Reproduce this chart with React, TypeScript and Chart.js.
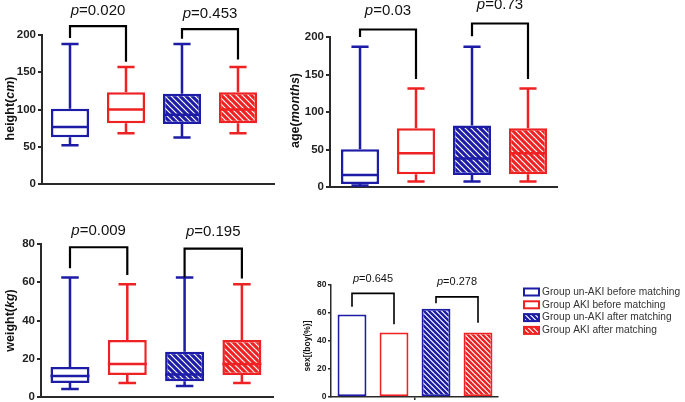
import React, { useEffect, useRef } from "react";
import { Chart, registerables } from "chart.js";

Chart.register(...registerables);

const FONT = '"Liberation Sans", Arial, Helvetica, sans-serif';

// ---------- shared groups ----------
const groups = [
  "Group un-AKI before matching",
  "Group AKI before matching",
  "Group un-AKI after matching",
  "Group AKI after matching",
];
const groupColors = ["#1c1ca6", "#ee2222", "#1c1ca6", "#ee2222"];
const groupHatched = [false, false, true, true];
const bracketPairs = [
  [0, 1],
  [2, 3],
];

// ---------- height (cm) ----------
const heightMin = [52, 68, 62.5, 68];
const heightQ1 = [62.7, 81.5, 80.5, 81.5];
const heightMedian = [76.5, 100, 93, 100];
const heightQ3 = [101, 123, 121, 123];
const heightMax = [188, 157, 188, 157];
const heightTicks = [0, 50, 100, 150, 200];
const heightPValues = ["0.020", "0.453"];
const heightBracketTop = [212, 208];
const heightBracketLeftEnd = [196, 195];
const heightBracketRightEnd = [164, 167];

// ---------- age (months) ----------
const ageMin = [2, 7.5, 7.5, 7.5];
const ageQ1 = [4, 17, 16, 17];
const ageMedian = [16, 45, 38, 45];
const ageQ3 = [50.5, 78.5, 82, 78.5];
const ageMax = [187, 131.5, 187, 131.5];
const ageTicks = [0, 50, 100, 150, 200];
const agePValues = ["0.03", "0.73"];
const ageBracketTop = [210, 218];
const ageBracketLeftEnd = [200, 201];
const ageBracketRightEnd = [144, 144];

// ---------- weight (kg) ----------
const weightMin = [4.2, 7.3, 5.7, 7.3];
const weightQ1 = [7.3, 11.5, 8.2, 11.5];
const weightMedian = [11, 17.3, 11.8, 17.3];
const weightQ3 = [15.7, 29.8, 23.6, 29.8];
const weightMax = [62.5, 59, 62.5, 59];
const weightTicks = [0, 20, 40, 60, 80];
const weightPValues = ["0.009", "0.195"];
const weightBracketTop = [78.3, 77.6];
const weightBracketLeftEnd = [67.3, 62.5];
const weightBracketRightEnd = [63.8, 62];

// ---------- sex (boy %) ----------
const sexBoyPercent = [59, 46, 63, 46];
const sexTicks = [0, 20, 40, 60, 80];
const sexPValues = ["0.645", "0.278"];
const sexBracketTop = [74, 71.5];
const sexBracketLeftEnd = [64.5, 67];
const sexBracketRightEnd = [52, 53];
const sexSeparatorTicks = [1.5];

type Part = { text: string; italic?: boolean };

function drawParts(
  ctx: CanvasRenderingContext2D,
  parts: Part[],
  cx: number,
  cy: number,
  size: number,
  bold: boolean,
  rotate: boolean,
  color: string
) {
  ctx.save();
  ctx.translate(cx, cy);
  if (rotate) ctx.rotate(-Math.PI / 2);
  ctx.fillStyle = color;
  ctx.textBaseline = "middle";
  ctx.textAlign = "left";
  const fontOf = (p: Part) =>
    `${p.italic ? "italic " : ""}${bold ? "bold " : ""}${size}px ${FONT}`;
  let total = 0;
  const widths = parts.map((p) => {
    ctx.font = fontOf(p);
    const w = ctx.measureText(p.text).width;
    total += w;
    return w;
  });
  let x = -total / 2;
  parts.forEach((p, i) => {
    ctx.font = fontOf(p);
    ctx.fillText(p.text, x, 0);
    x += widths[i];
  });
  ctx.restore();
}

function makeHatch(color: string, size: number, lineWidth: number) {
  const c = document.createElement("canvas");
  c.width = size;
  c.height = size;
  const g = c.getContext("2d")!;
  g.fillStyle = "#ffffff";
  g.fillRect(0, 0, size, size);
  g.strokeStyle = color;
  g.lineWidth = lineWidth;
  g.beginPath();
  for (const off of [-size, 0, size]) {
    g.moveTo(off - 1, -1);
    g.lineTo(off + size + 1, size + 1);
  }
  g.stroke();
  return g.createPattern(c, "repeat")!;
}

interface Spec {
  canvas: HTMLCanvasElement;
  box?: { min: number[]; q1: number[]; med: number[]; q3: number[]; max: number[] };
  values?: number[];
  yMax: number;
  yTicks: number[];
  xMin: number;
  xMax: number;
  xTicks?: number[];
  padding: { top: number; right: number; bottom: number; left: number };
  yAxisWidth: number;
  tickSize: number;
  tickLength: number;
  tickPadding: number;
  axisWidth: number;
  lineWidth: number;
  title: Part[];
  titleX: number;
  titleDy: number;
  titleSize: number;
  pValues: string[];
  bracketTop: number[];
  bracketLeftEnd: number[];
  bracketRightEnd: number[];
  pSize: number;
  pOffset: number;
  bracketWidth: number;
  barPercentage: number;
  hatchSize: number;
  hatchWidth: number;
  legend?: { x: number; y: number; rowH: number; size: number };
}

const AXIS_COLOR = "#2a2a2a";

function buildChart(spec: Spec): Chart {
  const fills = groupColors.map((c, i) =>
    groupHatched[i] ? makeHatch(c, spec.hatchSize, spec.hatchWidth) : "#ffffff"
  );
  const data = spec.box
    ? spec.box.q1.map((q, i) => ({ x: i, y: [q, spec.box!.q3[i]] }))
    : (spec.values || []).map((v, i) => ({ x: i, y: v }));

  const annot = {
    id: "annot",
    beforeDatasetsDraw(chart: any) {
      if (!spec.box) return;
      const b = spec.box;
      const ctx: CanvasRenderingContext2D = chart.ctx;
      const ys = chart.scales.y;
      const meta = chart.getDatasetMeta(0);
      ctx.save();
      ctx.lineWidth = spec.lineWidth;
      meta.data.forEach((bar: any, i: number) => {
        const x = bar.x;
        const cap = bar.width * 0.45;
        const yMin = ys.getPixelForValue(b.min[i]);
        const yQ1 = ys.getPixelForValue(b.q1[i]);
        const yQ3 = ys.getPixelForValue(b.q3[i]);
        const yMax = ys.getPixelForValue(b.max[i]);
        ctx.strokeStyle = groupColors[i];
        ctx.beginPath();
        ctx.moveTo(x, yQ3);
        ctx.lineTo(x, yMax);
        ctx.moveTo(x - cap / 2, yMax);
        ctx.lineTo(x + cap / 2, yMax);
        ctx.moveTo(x, yQ1);
        ctx.lineTo(x, yMin);
        ctx.moveTo(x - cap / 2, yMin);
        ctx.lineTo(x + cap / 2, yMin);
        ctx.stroke();
      });
      ctx.restore();
    },
    afterDatasetsDraw(chart: any) {
      if (!spec.box) return;
      const b = spec.box;
      const ctx: CanvasRenderingContext2D = chart.ctx;
      const ys = chart.scales.y;
      const meta = chart.getDatasetMeta(0);
      ctx.save();
      ctx.lineWidth = spec.lineWidth;
      meta.data.forEach((bar: any, i: number) => {
        const y = ys.getPixelForValue(b.med[i]);
        ctx.strokeStyle = groupColors[i];
        ctx.beginPath();
        ctx.moveTo(bar.x - bar.width / 2, y);
        ctx.lineTo(bar.x + bar.width / 2, y);
        ctx.stroke();
      });
      ctx.restore();
    },
    afterDraw(chart: any) {
      const ctx: CanvasRenderingContext2D = chart.ctx;
      const xs = chart.scales.x;
      const ys = chart.scales.y;
      ctx.save();
      ctx.strokeStyle = "#000000";
      ctx.lineWidth = spec.bracketWidth;
      bracketPairs.forEach(([a, bIdx], k) => {
        const xa = xs.getPixelForValue(a);
        const xb = xs.getPixelForValue(bIdx);
        const yt = ys.getPixelForValue(spec.bracketTop[k]);
        ctx.beginPath();
        ctx.moveTo(xa, ys.getPixelForValue(spec.bracketLeftEnd[k]));
        ctx.lineTo(xa, yt);
        ctx.lineTo(xb, yt);
        ctx.lineTo(xb, ys.getPixelForValue(spec.bracketRightEnd[k]));
        ctx.stroke();
        drawParts(
          ctx,
          [{ text: "p", italic: true }, { text: "=" + spec.pValues[k] }],
          (xa + xb) / 2,
          yt - spec.pOffset,
          spec.pSize,
          false,
          false,
          "#111111"
        );
      });
      ctx.restore();

      const area = chart.chartArea;
      drawParts(
        ctx,
        spec.title,
        spec.titleX,
        (area.top + area.bottom) / 2 + spec.titleDy,
        spec.titleSize,
        true,
        true,
        "#111111"
      );

      if (spec.legend) {
        const L = spec.legend;
        ctx.save();
        groups.forEach((g, i) => {
          const y = L.y + i * L.rowH;
          ctx.fillStyle = fills[i] as any;
          ctx.fillRect(L.x, y - 3.5, 15, 7);
          ctx.strokeStyle = groupColors[i];
          ctx.lineWidth = 2;
          ctx.strokeRect(L.x, y - 3.5, 15, 7);
          ctx.fillStyle = "#333333";
          ctx.font = `${L.size}px ${FONT}`;
          ctx.textBaseline = "middle";
          ctx.textAlign = "left";
          ctx.fillText(g, L.x + 18, y);
        });
        ctx.restore();
      }
    },
  };

  return new Chart(spec.canvas, {
    type: "bar",
    data: {
      datasets: [
        {
          data: data as any,
          backgroundColor: fills as any,
          borderColor: groupColors,
          borderWidth: spec.lineWidth,
          borderSkipped: false,
          barPercentage: spec.barPercentage,
          categoryPercentage: 0.8,
        },
      ],
    },
    options: {
      responsive: false,
      animation: false,
      events: [],
      layout: { padding: spec.padding },
      plugins: {
        legend: { display: false },
        tooltip: { enabled: false },
        title: { display: false },
      },
      scales: {
        x: {
          type: "linear",
          min: spec.xMin,
          max: spec.xMax,
          offset: false,
          ticks: { display: false },
          grid: {
            display: !!spec.xTicks,
            offset: false,
            drawOnChartArea: false,
            tickLength: 3,
            color: AXIS_COLOR,
            lineWidth: spec.axisWidth,
          },
          border: { display: true, color: AXIS_COLOR, width: spec.axisWidth },
          afterBuildTicks: (s: any) => {
            s.ticks = (spec.xTicks || [0, 1, 2, 3]).map((v) => ({ value: v }));
          },
          afterFit: (s: any) => {
            s.height = 0;
          },
        },
        y: {
          type: "linear",
          min: 0,
          max: spec.yMax,
          ticks: {
            color: "#222222",
            padding: spec.tickPadding,
            font: { family: FONT, size: spec.tickSize, weight: "bold" },
            callback: (v: any) => String(v),
          },
          grid: {
            drawOnChartArea: false,
            tickLength: spec.tickLength,
            color: AXIS_COLOR,
            lineWidth: spec.axisWidth,
          },
          border: { display: true, color: AXIS_COLOR, width: spec.axisWidth },
          afterBuildTicks: (s: any) => {
            s.ticks = spec.yTicks.map((v) => ({ value: v }));
          },
          afterFit: (s: any) => {
            s.width = spec.yAxisWidth;
          },
        },
      },
    } as any,
    plugins: [annot as any],
  });
}

export default function App() {
  const r1 = useRef<HTMLCanvasElement>(null);
  const r2 = useRef<HTMLCanvasElement>(null);
  const r3 = useRef<HTMLCanvasElement>(null);
  const r4 = useRef<HTMLCanvasElement>(null);

  useEffect(() => {
    const common = {
      tickSize: 11.5,
      tickLength: 4,
      tickPadding: 2,
      axisWidth: 2,
      lineWidth: 2.5,
      titleSize: 12.5,
      titleDy: 0,
      pSize: 15,
      bracketWidth: 2.2,
      barPercentage: 0.85,
      hatchSize: 6,
      hatchWidth: 3.1,
    };
    const charts = [
      buildChart({
        ...common,
        canvas: r1.current!,
        box: { min: heightMin, q1: heightQ1, med: heightMedian, q3: heightQ3, max: heightMax },
        yMax: 200,
        yTicks: heightTicks,
        xMin: -0.5,
        xMax: 3.643,
        padding: { top: 35, right: 6, bottom: 16, left: 0 },
        yAxisWidth: 42,
        title: [{ text: "height(" }, { text: "cm", italic: true }, { text: ")" }],
        titleX: 11,
        titleDy: -1,
        pValues: heightPValues,
        bracketTop: heightBracketTop,
        bracketLeftEnd: heightBracketLeftEnd,
        bracketRightEnd: heightBracketRightEnd,
        pOffset: 15,
      }),
      buildChart({
        ...common,
        canvas: r2.current!,
        box: { min: ageMin, q1: ageQ1, med: ageMedian, q3: ageQ3, max: ageMax },
        yMax: 200,
        yTicks: ageTicks,
        xMin: -0.536,
        xMax: 3.518,
        padding: { top: 37, right: 13, bottom: 13, left: 0 },
        yAxisWidth: 50,
        title: [{ text: "age(" }, { text: "months", italic: true }, { text: ")" }],
        titleX: 16,
        titleDy: -1.5,
        pValues: agePValues,
        bracketTop: ageBracketTop,
        bracketLeftEnd: ageBracketLeftEnd,
        bracketRightEnd: ageBracketRightEnd,
        pOffset: 18.5,
      }),
      buildChart({
        ...common,
        canvas: r3.current!,
        box: { min: weightMin, q1: weightQ1, med: weightMedian, q3: weightQ3, max: weightMax },
        yMax: 80,
        yTicks: weightTicks,
        xMin: -0.506,
        xMax: 3.543,
        padding: { top: 39, right: 7, bottom: 23, left: 0 },
        yAxisWidth: 41,
        title: [{ text: "weight(" }, { text: "kg", italic: true }, { text: ")" }],
        titleX: 11,
        pValues: weightPValues,
        bracketTop: weightBracketTop,
        bracketLeftEnd: weightBracketLeftEnd,
        bracketRightEnd: weightBracketRightEnd,
        pOffset: 16.5,
      }),
      buildChart({
        ...common,
        canvas: r4.current!,
        values: sexBoyPercent,
        yMax: 80,
        yTicks: sexTicks,
        xMin: -0.5,
        xMax: 3.476,
        xTicks: sexSeparatorTicks,
        padding: { top: 23, right: 187, bottom: 15, left: 0 },
        yAxisWidth: 41,
        tickSize: 8.5,
        tickLength: 3,
        tickPadding: 1.5,
        axisWidth: 1.5,
        lineWidth: 2,
        title: [{ text: "sex[(boy(%)]" }],
        titleX: 18,
        titleDy: 5,
        titleSize: 8.5,
        pValues: sexPValues,
        bracketTop: sexBracketTop,
        bracketLeftEnd: sexBracketLeftEnd,
        bracketRightEnd: sexBracketRightEnd,
        pSize: 11,
        pOffset: 14.5,
        bracketWidth: 1.6,
        barPercentage: 0.86,
        hatchSize: 5,
        hatchWidth: 2.4,
        legend: { x: 234, y: 30, rowH: 12.8, size: 10.2 },
      }),
    ];
    return () => charts.forEach((c) => c.destroy());
  }, []);

  return (
    <div
      style={{
        position: "fixed",
        left: 0,
        top: 0,
        width: 685,
        height: 402,
        overflow: "hidden",
        background: "#ffffff",
      }}
    >
      <canvas ref={r1} width={280} height={200} style={{ position: "absolute", left: 0, top: 0 }} />
      <canvas ref={r2} width={290} height={200} style={{ position: "absolute", left: 280, top: 0 }} />
      <canvas ref={r3} width={280} height={215} style={{ position: "absolute", left: 0, top: 205 }} />
      <canvas ref={r4} width={395} height={150} style={{ position: "absolute", left: 290, top: 262 }} />
    </div>
  );
}
